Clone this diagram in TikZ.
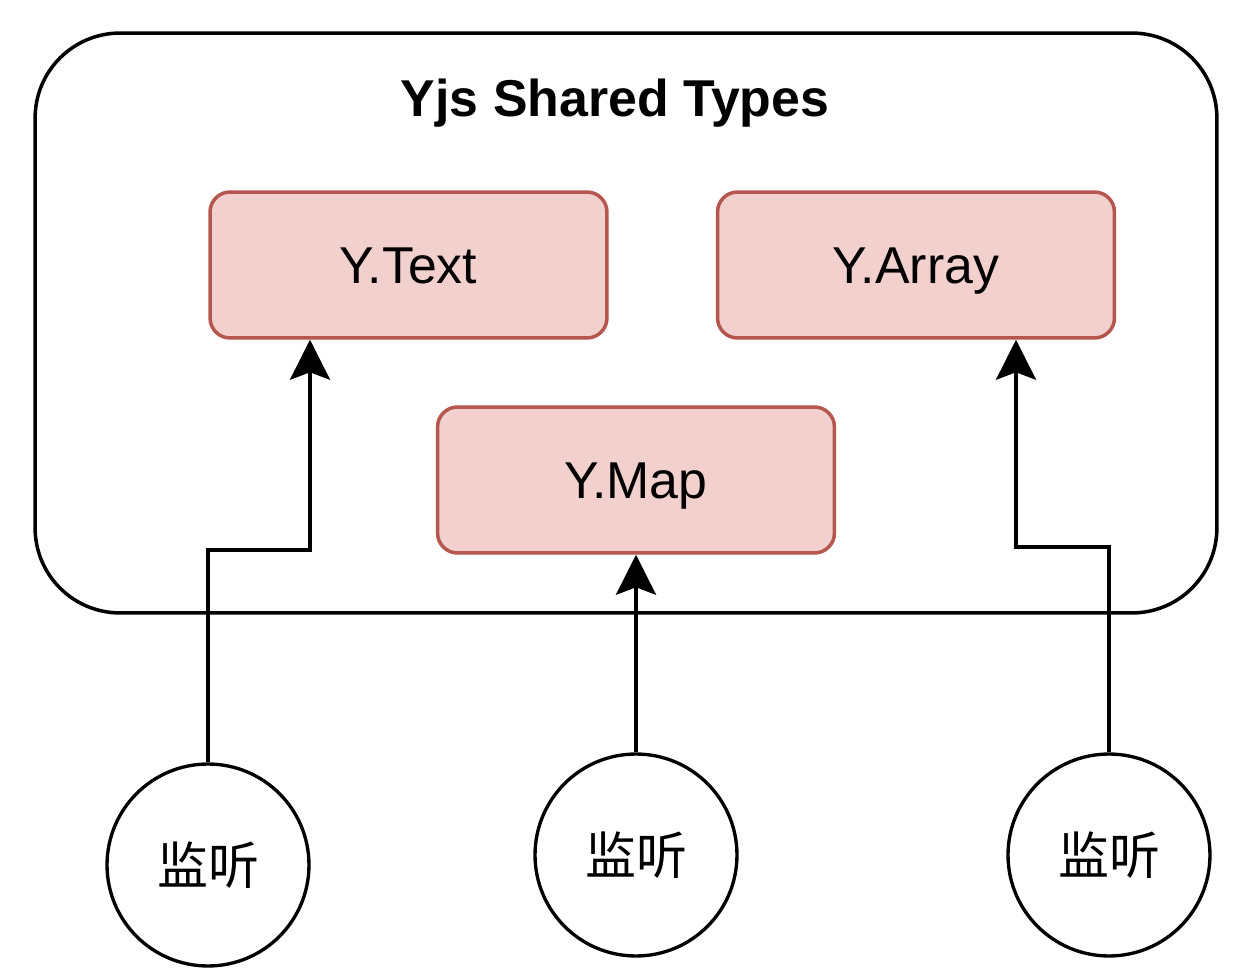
\documentclass[tikz,border=0pt]{standalone}
\usepackage{fontspec}
\setmainfont{Liberation Sans}
\newfontfamily\cjk{Noto Sans CJK SC}
\usetikzlibrary{arrows.meta,positioning}
\definecolor{typefill}{HTML}{F2D0CD}
\definecolor{typeline}{HTML}{B5564F}
\tikzset{
    typebox/.style={draw=typeline,fill=typefill,line width=2pt,
        rounded corners=0.4cm,minimum width=7.94cm,minimum height=2.92cm,
        text height=21.2pt,text depth=0pt,
        font=\fontsize{29.5}{34}\selectfont},
    listener/.style={draw,circle,line width=1.9pt,minimum size=4.04cm,
        inner sep=0pt,font=\cjk\fontsize{29}{34}\selectfont},
    link/.style={line width=2.2pt,-{Stealth[length=0.8cm,width=0.8cm,inset=0.15cm]}}
}
\begin{document}
\begin{tikzpicture}[x=0.02cm,y=-0.02cm]
        \useasboundingbox (0,0) rectangle (1242,980);
        %% Outer frame with title
        \node[draw,line width=2pt,rounded corners=1.7cm,minimum width=23.64cm,
            minimum height=11.6cm] (shared) at (626,323) {};
        \node[anchor=base,font=\bfseries\fontsize{29.5}{34}\selectfont]
            (title) at (615,117) {Yjs Shared Types};
        %% Shared types
        \node[typebox] (ytext) at (408.5,265) {Y.Text};
        \node[typebox] (yarray) at (916,265) {Y.Array};
        \node[typebox] (ymap) at (636,480) {Y.Map};
        %% Listeners, below the frame
        \node[listener] (lsnA) at (208,865) {\raisebox{-2pt}{监听}};
        \node[listener] (lsnB) at (636,855) {\raisebox{-2pt}{监听}};
        \node[listener] (lsnC) at (1109,855) {\raisebox{-2pt}{监听}};
        \coordinate (bendA) at (310,550);
        \coordinate (bendC) at (1016,547);
        \draw[link] (lsnA.north) |- (bendA) -- (ytext.south -| bendA);
        \draw[link] (lsnB.north) -- (ymap.south);
        \draw[link] (lsnC.north) |- (bendC) -- (yarray.south -| bendC);
    \end{tikzpicture}
\end{document}
